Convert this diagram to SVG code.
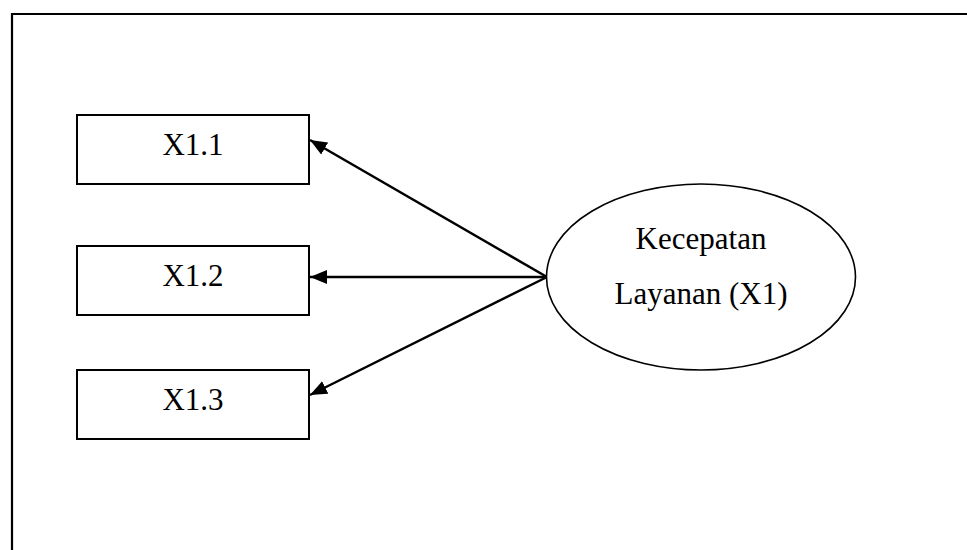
<svg xmlns="http://www.w3.org/2000/svg" width="967" height="550" viewBox="0 0 967 550">
  <style>
    .box { fill: #ffffff; stroke: #000000; stroke-width: 2; }
    .oval { fill: #ffffff; stroke: #000000; stroke-width: 1.6; }
    .label { font-family: 'Liberation Serif', 'Times New Roman', Times, 'DejaVu Serif', serif; font-size: 31px; fill: #000000; text-anchor: middle; }
    .edge { stroke: #000000; stroke-width: 2.5; fill: none; marker-end: url(#arrow); }
  </style>
  <defs>
    <marker id="arrow" markerUnits="userSpaceOnUse" markerWidth="18" markerHeight="14" refX="17" refY="7" orient="auto">
      <path d="M0,0 L17,7 L0,14 Z" fill="#000000"/>
    </marker>
  </defs>
  <rect width="967" height="550" fill="#ffffff"/>
  <!-- outer frame, open on the right and bottom -->
  <path d="M12,550 L12,14 L967,14" fill="none" stroke="#000000" stroke-width="2.2"/>

  <g id="connectors">
    <line class="edge" x1="547" y1="277" x2="310" y2="140"/>
    <line class="edge" x1="547" y1="277" x2="310" y2="277"/>
    <line class="edge" x1="547" y1="277" x2="310" y2="395"/>
  </g>

  <g id="x1-1">
    <rect class="box" x="77" y="115" width="232" height="69"/>
    <text class="label" x="193" y="155">X1.1</text>
  </g>
  <g id="x1-2">
    <rect class="box" x="77" y="246" width="232" height="69"/>
    <text class="label" x="193" y="286">X1.2</text>
  </g>
  <g id="x1-3">
    <rect class="box" x="77" y="370" width="232" height="69"/>
    <text class="label" x="193" y="410">X1.3</text>
  </g>
  <g id="kecepatan-layanan">
    <ellipse class="oval" cx="701" cy="277" rx="154.5" ry="93"/>
    <text class="label" x="701" y="249">Kecepatan</text>
    <text class="label" x="701" y="304">Layanan (X1)</text>
  </g>
</svg>
